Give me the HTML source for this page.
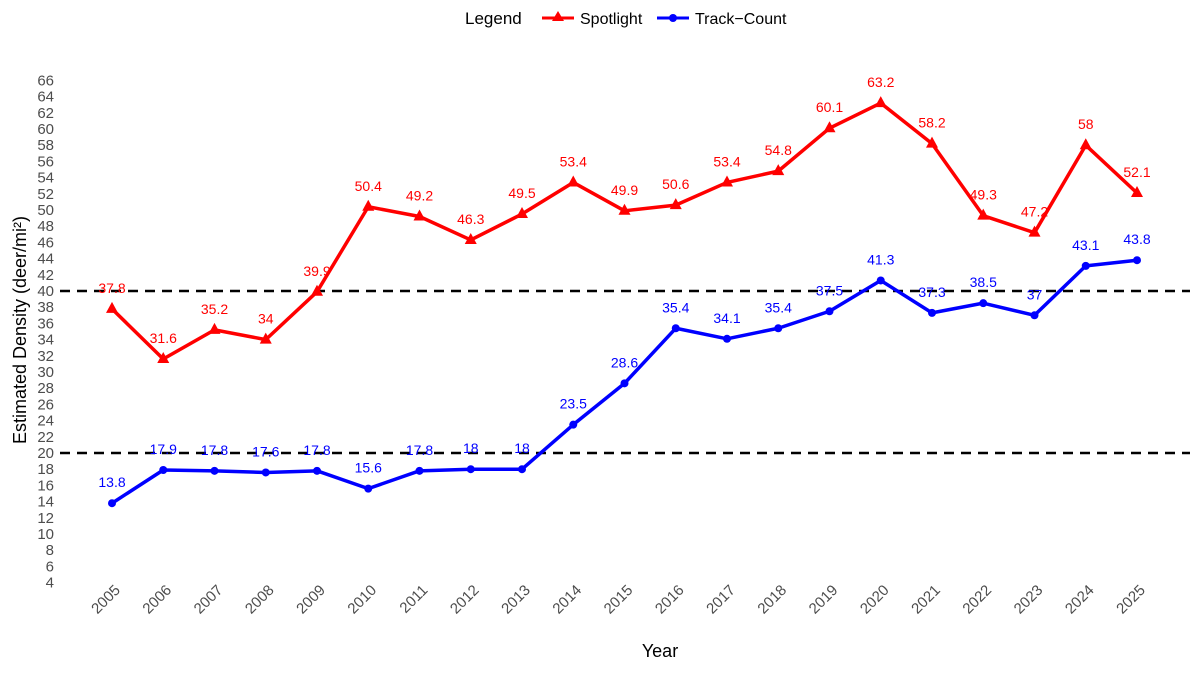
<!DOCTYPE html>
<html><head><meta charset="utf-8"><style>
body{margin:0;background:#fff;font-family:"Liberation Sans",sans-serif}
</style></head><body>
<svg id="chart" width="1200" height="672" xmlns="http://www.w3.org/2000/svg" font-family="Liberation Sans, sans-serif">
<g>
<text x="465" y="24" font-size="17" fill="#000">Legend</text>
<g>
<line x1="542" y1="18" x2="574" y2="18" stroke="#f00" stroke-width="3"/>
<polygon points="558,11 564,21 552,21" fill="#f00"/>
<text x="580" y="24" font-size="16" fill="#000">Spotlight</text></g>
<g>
<line x1="657" y1="18" x2="689" y2="18" stroke="#00f" stroke-width="3"/>
<circle cx="673" cy="18" r="4" fill="#00f"/>
<text x="695" y="24" font-size="16" fill="#000">Track−Count</text></g>
</g>
<g id="axes"></g><g id="marks"></g>
<text x="660" y="657" font-size="18" text-anchor="middle" fill="#000">Year</text>
<text transform="translate(26,330) rotate(-90)" font-size="18" text-anchor="middle" fill="#000">Estimated Density (deer/mi²)</text>
</svg>
<script>
const years=[2005,2006,2007,2008,2009,2010,2011,2012,2013,2014,2015,2016,2017,2018,2019,2020,2021,2022,2023,2024,2025];
const spotlight=[37.8,31.6,35.2,34,39.9,50.4,49.2,46.3,49.5,53.4,49.9,50.6,53.4,54.8,60.1,63.2,58.2,49.3,47.2,58,52.1];
const trackCount=[13.8,17.9,17.8,17.6,17.8,15.6,17.8,18,18,23.5,28.6,35.4,34.1,35.4,37.5,41.3,37.3,38.5,37,43.1,43.8];
const yTicks=[4,6,8,10,12,14,16,18,20,22,24,26,28,30,32,34,36,38,40,42,44,46,48,50,52,54,56,58,60,62,64,66];
const refLines=[20,40];
const NS="http://www.w3.org/2000/svg";
const x=i=>112+i*(1137-112)/(years.length-1);
const y=v=>453-(v-20)*8.1;
function mk(tag,attrs,parent){const e=document.createElementNS(NS,tag);for(const k in attrs)e.setAttribute(k,attrs[k]);parent.appendChild(e);return e;}
const axes=document.getElementById('axes'),marks=document.getElementById('marks');
yTicks.forEach(t=>{const e=mk('text',{x:54,y:y(t)+5,'font-size':15,'text-anchor':'end',fill:'#4d4d4d'},axes);e.textContent=t;

});
years.forEach((yr,i)=>{const e=mk('text',{transform:`translate(${x(i)+9},${591}) rotate(-45)`,'font-size':15,'text-anchor':'end',fill:'#4d4d4d'},axes);e.textContent=yr;

});
refLines.forEach(v=>{const l=mk('line',{x1:60,x2:1190,y1:y(v),y2:y(v),stroke:'#000','stroke-width':2.5,'stroke-dasharray':'10,7'},marks);

});
function series(vals,color,name,tri){
const p=mk('polyline',{points:vals.map((v,i)=>x(i)+','+y(v)).join(' '),fill:'none',stroke:color,'stroke-width':3.5,'stroke-linejoin':'round'},marks);


vals.forEach((v,i)=>{const cx=x(i),cy=y(v);let m;
if(tri)m=mk('polygon',{points:`${cx},${cy-7} ${cx+6},${cy+4} ${cx-6},${cy+4}`,fill:color},marks);
else m=mk('circle',{cx:cx,cy:cy,r:4,fill:color},marks);


const t=mk('text',{x:cx,y:cy-16,'font-size':14,'text-anchor':'middle',fill:color},marks);t.textContent=v;

});}
series(spotlight,'#f00','spotlight',true);
series(trackCount,'#00f','track-count',false);
</script>
</body></html>
